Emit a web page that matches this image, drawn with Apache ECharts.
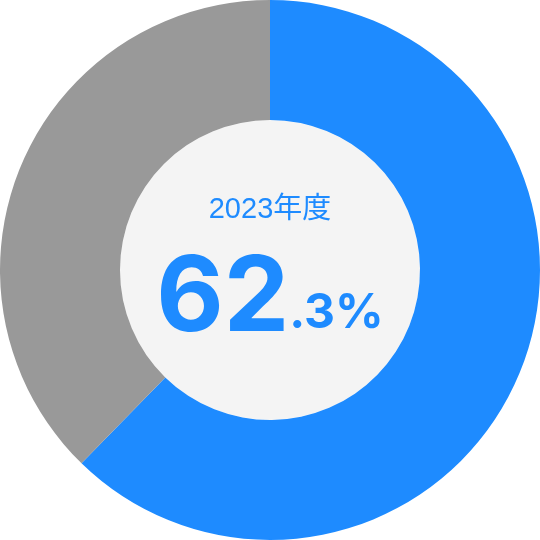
<!DOCTYPE html>
<html><head><meta charset="utf-8">
<script src="https://cdn.jsdelivr.net/npm/echarts@6/dist/echarts.min.js"></script>
<style>html,body{margin:0;padding:0;background:#fff}#c{width:540px;height:540px}</style>
</head><body><div id="c"></div>
<script>
const categories = ['達成', '未達成'];
const values = [62.3, 37.7];
const yearLabel = '2023年度';
const colors = ['#1E8BFF', '#999999'];

const chart = echarts.init(document.getElementById('c'));
const intPart = String(values[0]).split('.')[0];
const decPart = '.' + String(values[0]).split('.')[1] + '%';
chart.setOption({
  animation: false,
  graphic: [{
    type: 'circle', shape: { cx: 270, cy: 270, r: 150 }, style: { fill: '#F4F4F4' }, z: -1
  }],
  title: [{
    text: yearLabel, left: 'center', top: 190,
    textStyle: { color: '#1E8BFF', fontSize: 29, fontWeight: 'normal', fontFamily: "'Liberation Sans', 'Noto Sans CJK JP'", lineHeight: 29 }
  }, {
    text: '{a|' + intPart + '}{b|' + decPart + '}',
    left: 'center', top: 243,
    textStyle: {
      rich: {
        a: { color: '#1E8BFF', fontSize: 104, fontWeight: 'bold', fontFamily: 'Inter', lineHeight: 104, verticalAlign: 'bottom' },
        b: { color: '#1E8BFF', fontSize: 48, fontWeight: 'bold', fontFamily: 'Inter', lineHeight: 48, verticalAlign: 'bottom', padding: [0, 0, 14, 0] }
      }
    }
  }],
  series: [{
    type: 'pie',
    center: [270, 270],
    radius: [150, 270],
    startAngle: 90,
    clockwise: true,
    silent: true,
    label: { show: false },
    labelLine: { show: false },
    itemStyle: { borderWidth: 0 },
    data: categories.map((n, i) => ({ name: n, value: values[i], itemStyle: { color: colors[i] } }))
  }]
});
</script></body></html>
